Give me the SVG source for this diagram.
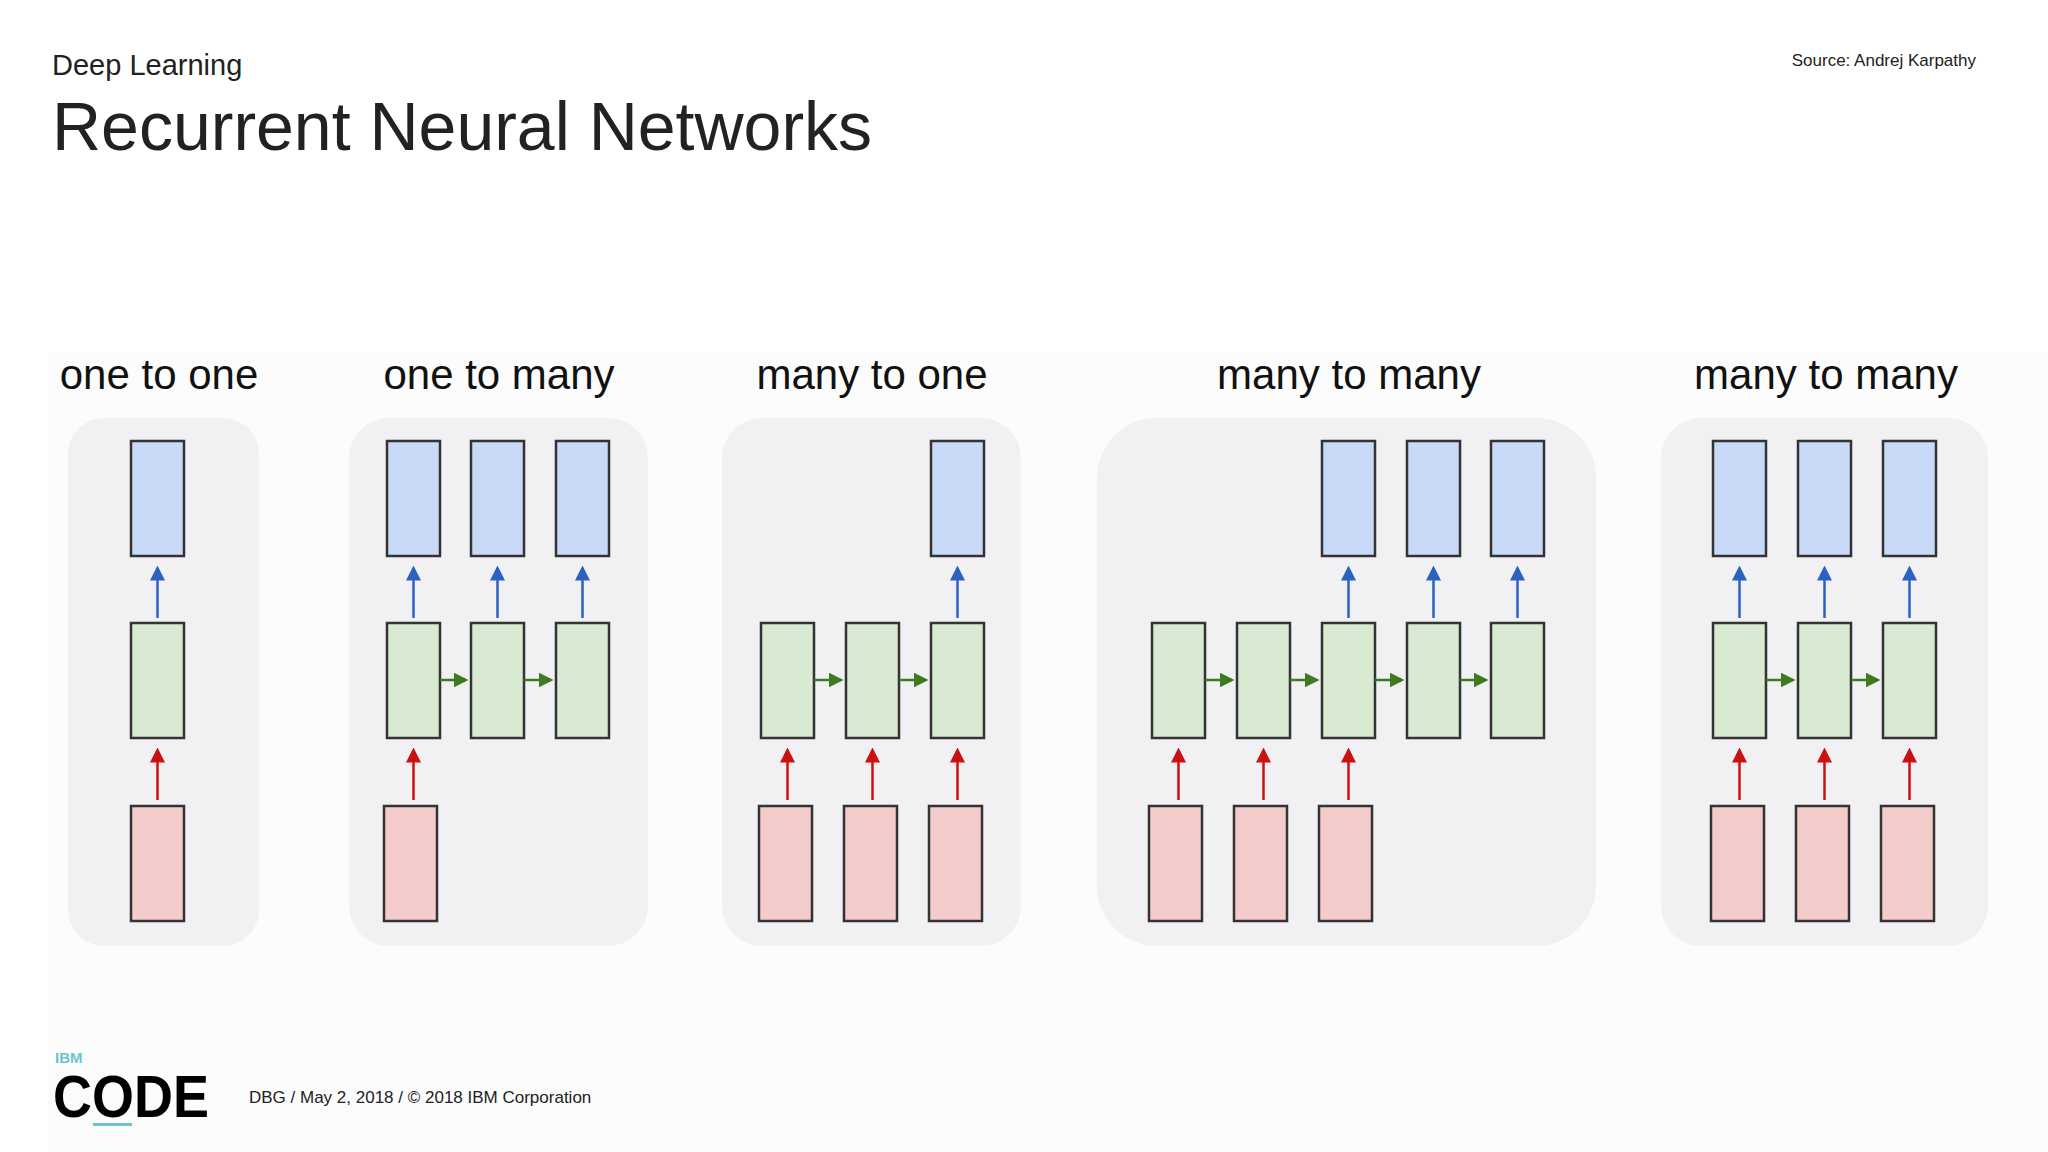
<svg xmlns="http://www.w3.org/2000/svg" width="2048" height="1152" viewBox="0 0 2048 1152">
<style>
text{font-family:"Liberation Sans",Arial,sans-serif;fill:#222}
.t{font-size:42px;text-anchor:middle;fill:#111}
.p{fill:#f1f1f3}
.b{fill:#c9daf8;stroke:#333;stroke-width:2.5}
.g{fill:#d9ead3;stroke:#333;stroke-width:2.5}
.r{fill:#f4cccc;stroke:#333;stroke-width:2.5}
.ab{stroke:#2b62c2;stroke-width:2.5;marker-end:url(#mb)}
.ar{stroke:#cc1111;stroke-width:2.5;marker-end:url(#mr)}
.ag{stroke:#3f7a23;stroke-width:2.5;marker-end:url(#mg)}
</style>
<defs>
<marker id="mb" markerWidth="6" markerHeight="6" refX="5" refY="3" orient="auto"><path d="M0,0L6,3L0,6z" fill="#2b62c2"/></marker>
<marker id="mr" markerWidth="6" markerHeight="6" refX="5" refY="3" orient="auto"><path d="M0,0L6,3L0,6z" fill="#cc1111"/></marker>
<marker id="mg" markerWidth="6" markerHeight="6" refX="5" refY="3" orient="auto"><path d="M0,0L6,3L0,6z" fill="#3f7a23"/></marker>
</defs>
<rect width="2048" height="1152" fill="#fff"/>
<rect x="48" y="352" width="2000" height="800" fill="#fcfcfd"/>
<text x="52" y="75" font-size="29">Deep Learning</text>
<text x="52" y="150" font-size="68">Recurrent Neural Networks</text>
<text x="1976" y="66" font-size="17" text-anchor="end">Source: Andrej Karpathy</text>
<g id="titles">
<text class="t" x="159" y="389">one to one</text>
<text class="t" x="499" y="389">one to many</text>
<text class="t" x="872" y="389">many to one</text>
<text class="t" x="1349" y="389">many to many</text>
<text class="t" x="1826" y="389">many to many</text>
</g>
<g id="panels">
<rect class="p" x="68" y="418" width="191" height="528" rx="36"/>
<rect class="p" x="349" y="418" width="299" height="528" rx="40"/>
<rect class="p" x="722" y="418" width="299" height="528" rx="40"/>
<rect class="p" x="1097" y="418" width="499" height="528" rx="60"/>
<rect class="p" x="1661" y="418" width="327" height="528" rx="40"/>
</g>
<g id="n1"><rect class="b" x="131" y="441" width="53" height="115"/><rect class="g" x="131" y="623" width="53" height="115"/><rect class="r" x="131" y="806" width="53" height="115"/></g>
<g id="n2">
<rect class="b" x="387" y="441" width="53" height="115"/><rect class="b" x="471" y="441" width="53" height="115"/><rect class="b" x="556" y="441" width="53" height="115"/>
<rect class="g" x="387" y="623" width="53" height="115"/><rect class="g" x="471" y="623" width="53" height="115"/><rect class="g" x="556" y="623" width="53" height="115"/>
<rect class="r" x="384" y="806" width="53" height="115"/>
</g>
<g id="n3">
<rect class="b" x="931" y="441" width="53" height="115"/>
<rect class="g" x="761" y="623" width="53" height="115"/><rect class="g" x="846" y="623" width="53" height="115"/><rect class="g" x="931" y="623" width="53" height="115"/>
<rect class="r" x="759" y="806" width="53" height="115"/><rect class="r" x="844" y="806" width="53" height="115"/><rect class="r" x="929" y="806" width="53" height="115"/>
</g>
<g id="n4">
<rect class="b" x="1322" y="441" width="53" height="115"/><rect class="b" x="1407" y="441" width="53" height="115"/><rect class="b" x="1491" y="441" width="53" height="115"/>
<rect class="g" x="1152" y="623" width="53" height="115"/><rect class="g" x="1237" y="623" width="53" height="115"/><rect class="g" x="1322" y="623" width="53" height="115"/><rect class="g" x="1407" y="623" width="53" height="115"/><rect class="g" x="1491" y="623" width="53" height="115"/>
<rect class="r" x="1149" y="806" width="53" height="115"/><rect class="r" x="1234" y="806" width="53" height="115"/><rect class="r" x="1319" y="806" width="53" height="115"/>
</g>
<g id="n5">
<rect class="b" x="1713" y="441" width="53" height="115"/><rect class="b" x="1798" y="441" width="53" height="115"/><rect class="b" x="1883" y="441" width="53" height="115"/>
<rect class="g" x="1713" y="623" width="53" height="115"/><rect class="g" x="1798" y="623" width="53" height="115"/><rect class="g" x="1883" y="623" width="53" height="115"/>
<rect class="r" x="1711" y="806" width="53" height="115"/><rect class="r" x="1796" y="806" width="53" height="115"/><rect class="r" x="1881" y="806" width="53" height="115"/>
</g>
<g id="connectors" fill="none">
<path class="ab" d="M157.5 618V568"/><path class="ar" d="M157.5 800V750"/>
<path class="ab" d="M413.5 618V568"/><path class="ab" d="M497.5 618V568"/><path class="ab" d="M582.5 618V568"/><path class="ar" d="M413.5 800V750"/>
<path class="ag" d="M440 680H466"/><path class="ag" d="M524 680H551"/>
<path class="ab" d="M957.5 618V568"/>
<path class="ar" d="M787.5 800V750"/><path class="ar" d="M872.5 800V750"/><path class="ar" d="M957.5 800V750"/>
<path class="ag" d="M814 680H841"/><path class="ag" d="M899 680H926"/>
<path class="ab" d="M1348.5 618V568"/><path class="ab" d="M1433.5 618V568"/><path class="ab" d="M1517.5 618V568"/>
<path class="ar" d="M1178.5 800V750"/><path class="ar" d="M1263.5 800V750"/><path class="ar" d="M1348.5 800V750"/>
<path class="ag" d="M1205 680H1232"/><path class="ag" d="M1290 680H1317"/><path class="ag" d="M1375 680H1402"/><path class="ag" d="M1460 680H1486"/>
<path class="ab" d="M1739.5 618V568"/><path class="ab" d="M1824.5 618V568"/><path class="ab" d="M1909.5 618V568"/>
<path class="ar" d="M1739.5 800V750"/><path class="ar" d="M1824.5 800V750"/><path class="ar" d="M1909.5 800V750"/>
<path class="ag" d="M1766 680H1793"/><path class="ag" d="M1851 680H1878"/>
</g>
<g id="footer">
<text x="55" y="1063" font-size="15" font-weight="bold" style="fill:#6cc5c9">IBM</text>
<text x="53" y="1117" font-size="60" font-weight="bold" style="fill:#000" textLength="156" lengthAdjust="spacingAndGlyphs">CODE</text>
<rect x="93" y="1123" width="39" height="3" fill="#6cc5c9"/>
<text x="249" y="1103" font-size="17">DBG / May 2, 2018 / © 2018 IBM Corporation</text>
</g>
</svg>
